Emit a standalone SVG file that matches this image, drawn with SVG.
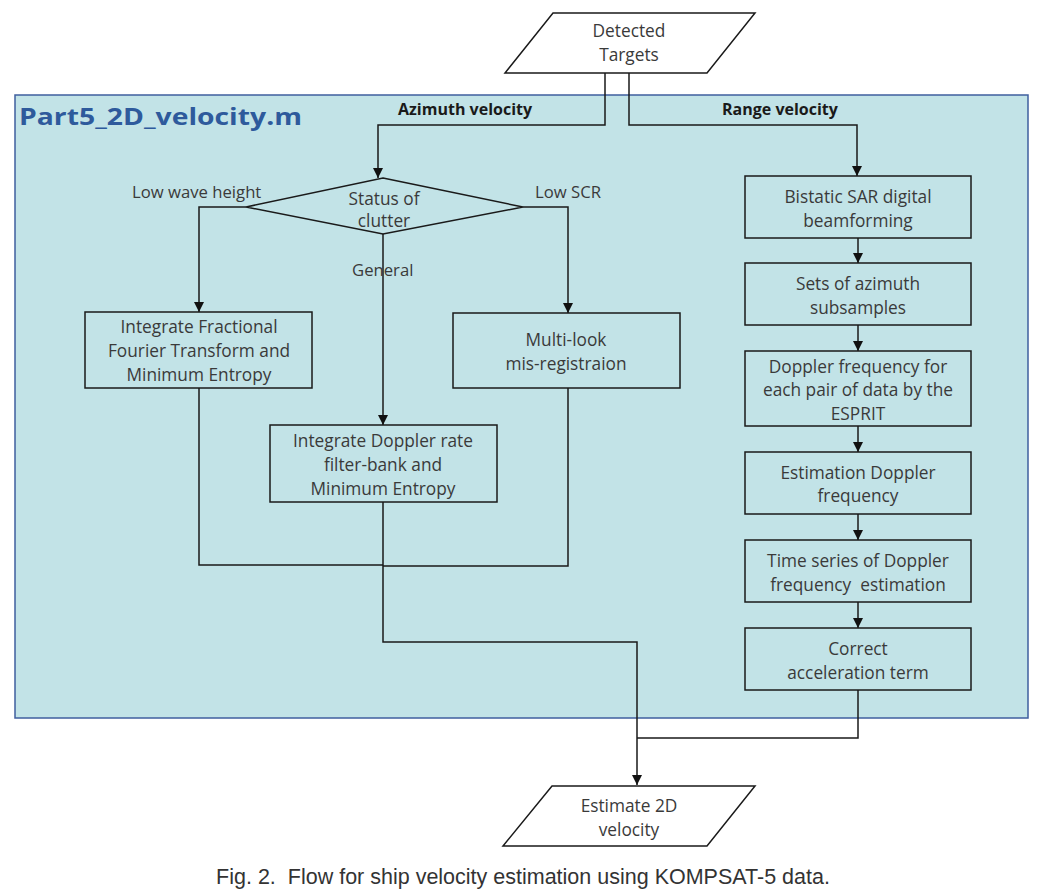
<svg xmlns="http://www.w3.org/2000/svg" width="1048" height="893" viewBox="0 0 1048 893">
<defs>
<marker id="arr" viewBox="0 0 10 10" refX="10" refY="5" markerWidth="10" markerHeight="10" markerUnits="userSpaceOnUse" orient="auto">
<path d="M0,0 L10,5 L0,10 z" fill="#111"/>
</marker>
</defs>
<style>
.box{fill:#c2e3e7;stroke:#1a1a1a;stroke-width:1.5}
.io{fill:#ffffff;stroke:#1a1a1a;stroke-width:1.5}
.t{font-family:"Open Sans","Liberation Sans",sans-serif;font-size:17.3px;fill:#3a3a3a;text-anchor:middle}
.lbl{font-family:"Open Sans","Liberation Sans",sans-serif;font-size:16.7px;fill:#3a3a3a}
.b{font-family:"Open Sans","Liberation Sans",sans-serif;font-size:16px;font-weight:bold;fill:#1a1a1a}
.c{fill:none;stroke:#1a1a1a;stroke-width:1.5}
</style>
<rect width="1048" height="893" fill="#ffffff"/>
<g id="container">
<rect x="15" y="95" width="1013" height="623" fill="#c2e3e7" stroke="#3f5f9f" stroke-width="1.5"/>
<text x="19" y="125" font-family="Open Sans,Liberation Sans,sans-serif" font-size="24" font-weight="bold" fill="#2e5a9c" textLength="283" lengthAdjust="spacingAndGlyphs">Part5_2D_velocity.m</text>
</g>
<g id="connectors">
<polyline class="c" points="605,73 605,125 378,125 378,178" marker-end="url(#arr)"/>
<polyline class="c" points="629,73 629,125 857,125 857,176" marker-end="url(#arr)"/>
<polyline class="c" points="246,207 199,207 199,312" marker-end="url(#arr)"/>
<polyline class="c" points="523,207 568,207 568,313" marker-end="url(#arr)"/>
<polyline class="c" points="383,234 383,425" marker-end="url(#arr)"/>
<polyline class="c" points="199,388 199,565 383,565"/>
<polyline class="c" points="568,388 568,566 383,566"/>
<polyline class="c" points="383,502 383,642 637,642 637,785" marker-end="url(#arr)"/>
<polyline class="c" points="858,690 858,738 637,738"/>
<line class="c" x1="858" y1="238" x2="858" y2="263" marker-end="url(#arr)"/>
<line class="c" x1="858" y1="325" x2="858" y2="351" marker-end="url(#arr)"/>
<line class="c" x1="858" y1="426" x2="858" y2="452" marker-end="url(#arr)"/>
<line class="c" x1="858" y1="514" x2="858" y2="540" marker-end="url(#arr)"/>
<line class="c" x1="858" y1="602" x2="858" y2="628" marker-end="url(#arr)"/>
<text class="b" x="398" y="115">Azimuth velocity</text>
<text class="b" x="722" y="115">Range velocity</text>
<text class="lbl" x="132" y="198">Low wave height</text>
<text class="lbl" x="535" y="198">Low SCR</text>
<text class="lbl" x="352" y="276">General</text>
</g>
<g id="detected">
<polygon class="io" points="553,13 755,13 707,73 505,73"/>
<text class="t" x="629" y="37">Detected</text>
<text class="t" x="629" y="61">Targets</text>
</g>
<g id="status">
<polygon class="box" points="383,178 523,207 383,234 246,207"/>
<text class="t" x="384" y="205">Status of</text>
<text class="t" x="384" y="227">clutter</text>
</g>
<g id="frft">
<rect class="box" x="85" y="312" width="227" height="76"/>
<text class="t" x="199" y="333">Integrate Fractional</text>
<text class="t" x="199" y="357">Fourier Transform and</text>
<text class="t" x="199" y="381">Minimum Entropy</text>
</g>
<g id="multilook">
<rect class="box" x="453" y="313" width="227" height="75"/>
<text class="t" x="566" y="346">Multi-look</text>
<text class="t" x="566" y="370">mis-registraion</text>
</g>
<g id="dopplerrate">
<rect class="box" x="270" y="425" width="227" height="77"/>
<text class="t" x="383" y="447">Integrate Doppler rate</text>
<text class="t" x="383" y="471">filter-bank and</text>
<text class="t" x="383" y="495">Minimum Entropy</text>
</g>
<g id="bistatic">
<rect class="box" x="745" y="176" width="226" height="62"/>
<text class="t" x="858" y="203">Bistatic SAR digital</text>
<text class="t" x="858" y="227">beamforming</text>
</g>
<g id="subsamples">
<rect class="box" x="745" y="263" width="226" height="62"/>
<text class="t" x="858" y="290">Sets of azimuth</text>
<text class="t" x="858" y="314">subsamples</text>
</g>
<g id="esprit">
<rect class="box" x="745" y="351" width="226" height="75"/>
<text class="t" x="858" y="373">Doppler frequency for</text>
<text class="t" x="858" y="396">each pair of data by the</text>
<text class="t" x="858" y="420">ESPRIT</text>
</g>
<g id="estdoppler">
<rect class="box" x="745" y="452" width="226" height="62"/>
<text class="t" x="858" y="479">Estimation Doppler</text>
<text class="t" x="858" y="502">frequency</text>
</g>
<g id="timeseries">
<rect class="box" x="745" y="540" width="226" height="62"/>
<text class="t" x="858" y="567">Time series of Doppler</text>
<text class="t" x="858" y="591" xml:space="preserve">frequency  estimation</text>
</g>
<g id="accel">
<rect class="box" x="745" y="628" width="226" height="62"/>
<text class="t" x="858" y="655">Correct</text>
<text class="t" x="858" y="679">acceleration term</text>
</g>
<g id="estimate">
<polygon class="io" points="552,786 755,786 707,846 503,846"/>
<text class="t" x="629" y="812">Estimate 2D</text>
<text class="t" x="629" y="836">velocity</text>
</g>
<text x="523" y="884" font-family="Liberation Sans,Arial,sans-serif" font-size="21.5" fill="#333" text-anchor="middle" xml:space="preserve">Fig. 2.  Flow for ship velocity estimation using KOMPSAT-5 data.</text>
</svg>
